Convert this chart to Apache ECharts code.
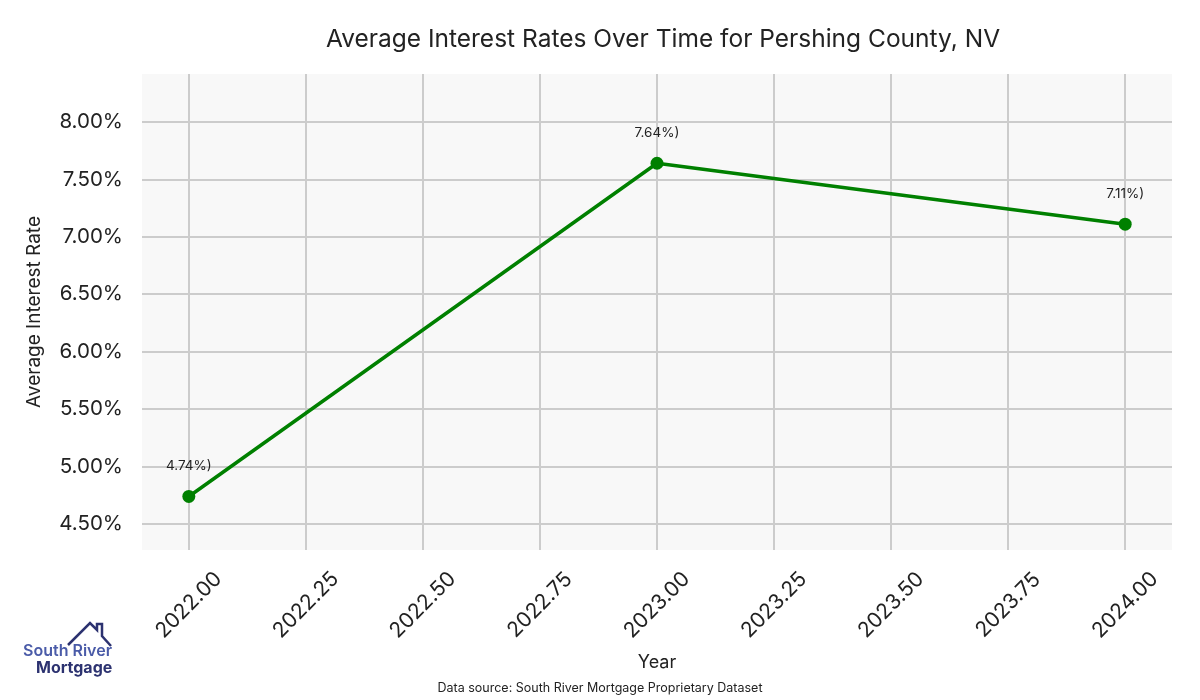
<!DOCTYPE html>
<html>
<head>
<meta charset="utf-8">
<script src="https://cdn.jsdelivr.net/npm/echarts@6/dist/echarts.min.js"></script>
<style>html,body{margin:0;padding:0;background:#fff}#c{width:1200px;height:700px}</style>
</head>
<body>
<div id="c"></div>
<script>
const years = [2022, 2023, 2024];
const rates = [4.74, 7.64, 7.11];
const xTicks = [2022.00, 2022.25, 2022.50, 2022.75, 2023.00, 2023.25, 2023.50, 2023.75, 2024.00];
const yTicks = [4.5, 5.0, 5.5, 6.0, 6.5, 7.0, 7.5, 8.0];

const FONT = 'Inter, "DejaVu Sans", sans-serif';
const chart = echarts.init(document.getElementById('c'), null, {renderer: 'canvas'});
chart.setOption({
  animation: false,
  backgroundColor: '#ffffff',
  title: {
    text: 'Average Interest Rates Over Time for Pershing County, NV',
    left: 658, top: 22, textAlign: 'center',
    textStyle: {fontFamily: FONT, fontSize: 24.5, fontWeight: 'normal', color: '#222'}
  },
  grid: {left: 142, right: 28, top: 74, bottom: 150, show: true, backgroundColor: '#f8f8f8', borderWidth: 0},
  xAxis: {
    type: 'value', min: 2021.9, max: 2024.1,
    name: 'Year', nameLocation: 'middle', nameGap: 104,
    nameTextStyle: {fontFamily: FONT, fontSize: 18, color: '#222'},
    axisLine: {show: false}, axisTick: {show: false, customValues: xTicks},
    axisLabel: {customValues: xTicks, rotate: 45, align: 'center', verticalAlign: 'middle',
      fontFamily: FONT, fontSize: 21, color: '#222', margin: 55,
      formatter: v => v.toFixed(2)},
    splitLine: {show: true, lineStyle: {color: '#cccccc', width: 2}}
  },
  yAxis: {
    type: 'value', min: 4.274, max: 8.417,
    name: 'Average Interest Rate', nameLocation: 'middle', nameGap: 98, nameRotate: 90,
    nameTextStyle: {fontFamily: FONT, fontSize: 19, color: '#222'},
    axisLine: {show: false}, axisTick: {show: false, customValues: yTicks},
    axisLabel: {customValues: yTicks, fontFamily: FONT, fontSize: 20.5, color: '#222', margin: 19,
      formatter: v => v.toFixed(2) + '%'},
    splitLine: {show: true, lineStyle: {color: '#cccccc', width: 2}}
  },
  series: [{
    type: 'line',
    data: years.map((y, i) => [y, rates[i]]),
    lineStyle: {color: '#008000', width: 3.5},
    itemStyle: {color: '#008000'},
    symbol: 'circle', symbolSize: 13,
    label: {show: true, position: 'top', distance: 17,
      fontFamily: FONT, fontSize: 13.5, color: '#222',
      formatter: p => p.value[1].toFixed(2) + '%)'}
  }],
  graphic: [
    {type: 'text', x: 600, y: 682, style: {text: 'Data source: South River Mortgage Proprietary Dataset', fontFamily: FONT, fontSize: 12.5, fill: '#222', align: 'center'}},
    {type: 'polyline', shape: {points: [[68, 645], [90, 623], [97, 630], [97, 624], [102, 624], [102, 636], [111, 646]]}, style: {stroke: '#2c3270', lineWidth: 2.5, fill: null}},
    {type: 'text', x: 23, y: 643, style: {text: 'South River', fontFamily: FONT, fontSize: 16, fontWeight: 600, fill: '#4a5ba8'}},
    {type: 'text', x: 36, y: 660, style: {text: 'Mortgage', fontFamily: FONT, fontSize: 16, fontWeight: 700, fill: '#2c3270'}}
  ]
});
</script>
</body>
</html>
